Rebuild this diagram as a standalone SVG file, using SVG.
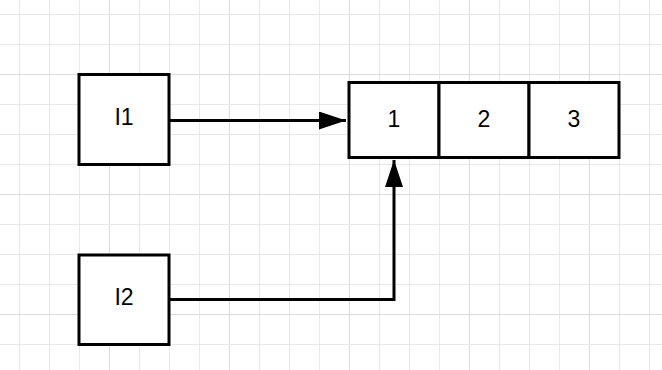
<svg xmlns="http://www.w3.org/2000/svg" width="662" height="370" viewBox="0 0 662 370">
<defs>
<style>
.grid{stroke:#e8e8e8;stroke-width:1}
.gridM{stroke:#dcdcdc;stroke-width:1}
.box{fill:#ffffff;stroke:#000000;stroke-width:3}
.lbl{font-family:"Liberation Sans",Arial,sans-serif;font-size:23px;fill:#000000;text-anchor:middle}
.edge{fill:none;stroke:#000000;stroke-width:3}
</style>
<marker id="arr" viewBox="0 0 9 6" refX="9" refY="3" markerWidth="9" markerHeight="6" markerUnits="strokeWidth" orient="auto" preserveAspectRatio="none">
<path d="M0,0 L9,3 L0,6 Z" fill="#000"/>
</marker>
</defs>
<rect width="662" height="370" fill="#ffffff"/>
<g id="grid">
<path class="grid" d="M19.5,0V370M49.5,0V370M79.5,0V370M139.5,0V370M169.5,0V370M199.5,0V370M259.5,0V370M289.5,0V370M319.5,0V370M379.5,0V370M409.5,0V370M439.5,0V370M499.5,0V370M529.5,0V370M559.5,0V370M619.5,0V370M649.5,0V370"/>
<path class="gridM" d="M109.5,0V370M229.5,0V370M349.5,0V370M469.5,0V370M589.5,0V370"/>
<path class="grid" d="M0,14.5H662M0,44.5H662M0,104.5H662M0,134.5H662M0,164.5H662M0,224.5H662M0,254.5H662M0,284.5H662M0,344.5H662"/>
<path class="gridM" d="M0,74.5H662M0,194.5H662M0,314.5H662"/>
</g>
<g id="connectors">
<path class="edge" d="M169,120.5 H346" marker-end="url(#arr)"/>
<path class="edge" d="M169,299.5 H394 V160" marker-end="url(#arr)"/>
</g>
<g id="I1">
<rect class="box" x="79" y="74.5" width="90" height="90"/>
<text class="lbl" x="124" y="125">I1</text>
</g>
<g id="I2">
<rect class="box" x="79" y="255" width="90" height="89.5"/>
<text class="lbl" x="124" y="305">I2</text>
</g>
<g id="array">
<rect class="box" x="349" y="82.5" width="90" height="75"/>
<rect class="box" x="439" y="82.5" width="90" height="75"/>
<rect class="box" x="529" y="82.5" width="90" height="75"/>
<text class="lbl" x="394" y="126.5">1</text>
<text class="lbl" x="484" y="126.5">2</text>
<text class="lbl" x="574" y="126.5">3</text>
</g>
</svg>
